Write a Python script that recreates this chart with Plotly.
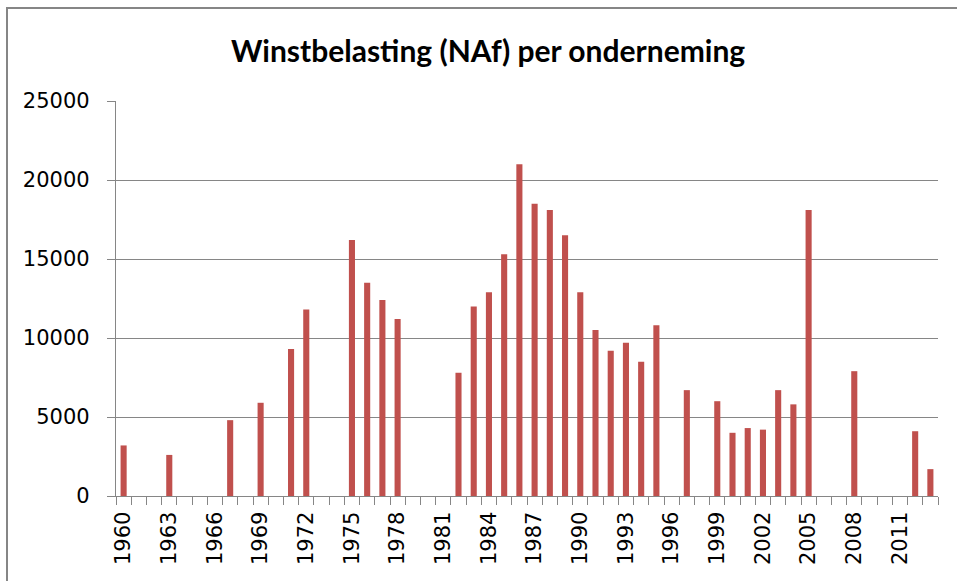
import plotly.graph_objects as go

years = [str(y) for y in range(1960, 2014)]
bar_years = [1960, 1963, 1967, 1969, 1971, 1972, 1975, 1976, 1977, 1978,
             1982, 1983, 1984, 1985, 1986, 1987, 1988, 1989, 1990, 1991,
             1992, 1993, 1994, 1995, 1997, 1999, 2000, 2001, 2002, 2003,
             2004, 2005, 2008, 2012, 2013]
bar_values = [3200, 2600, 4800, 5900, 9300, 11800, 16200, 13500, 12400, 11200,
              7800, 12000, 12900, 15300, 21000, 18500, 18100, 16500, 12900, 10500,
              9200, 9700, 8500, 10800, 6700, 6000, 4000, 4300, 4200, 6700,
              5800, 18100, 7900, 4100, 1700]
lookup = dict(zip(bar_years, bar_values))
values = [lookup.get(int(y), None) for y in years]
tick_text = [y if (int(y) - 1960) % 3 == 0 else "" for y in years]

title_text = "Winstbelasting (NAf) per onderneming"
y_ticks = [0, 5000, 10000, 15000, 20000, 25000]
y_tick_text = [str(v) for v in y_ticks]

grey = "#868686"

fig = go.Figure(go.Bar(x=years, y=values, marker=dict(color="#C0504D", line=dict(width=0))))

fig.update_layout(
    width=957, height=581,
    margin=dict(l=116, r=19, t=101, b=85),
    paper_bgcolor="white", plot_bgcolor="white",
    bargap=0.6,
    showlegend=False,
    title=dict(text="<b>" + title_text + "</b>", x=0.51, xanchor="center",
               y=1 - 51 / 581, yanchor="middle", yref="container",
               font=dict(family="Lato", size=30, color="black")),
    font=dict(family="DejaVu Sans", size=21, color="black"),
)

fig.update_xaxes(
    type="category",
    tickmode="array", tickvals=years, ticktext=tick_text,
    tickson="boundaries", ticks="outside", ticklen=8, tickcolor=grey, tickwidth=1.3,
    tickangle=-90,
    showline=True, linecolor=grey, linewidth=1.3,
    showgrid=False,
    tickfont=dict(family="DejaVu Sans", size=21),
    ticklabelstandoff=6,
)
fig.update_yaxes(
    range=[0, 25000],
    tickmode="array", tickvals=y_ticks, ticktext=y_tick_text,
    ticks="outside", ticklen=8, tickcolor=grey, tickwidth=1.3,
    showline=True, linecolor=grey, linewidth=1.3,
    showgrid=True, gridcolor=grey, gridwidth=1.3,
    zeroline=False,
    tickfont=dict(family="DejaVu Sans", size=21),
    ticklabelstandoff=13,
)

# Chart border (Excel-style frame, cropped at right and bottom)
fig.add_shape(type="rect", xref="paper", yref="paper",
              x0=(7 - 116) / 822, x1=(1000 - 116) / 822,
              y0=(496 - 620) / 395, y1=(496 - 8) / 395,
              line=dict(color=grey, width=2), fillcolor="rgba(0,0,0,0)", layer="below")

fig.write_html("out.html", config={"displayModeBar": False},
               post_script="document.body.style.margin='0';document.body.style.overflow='hidden';")
